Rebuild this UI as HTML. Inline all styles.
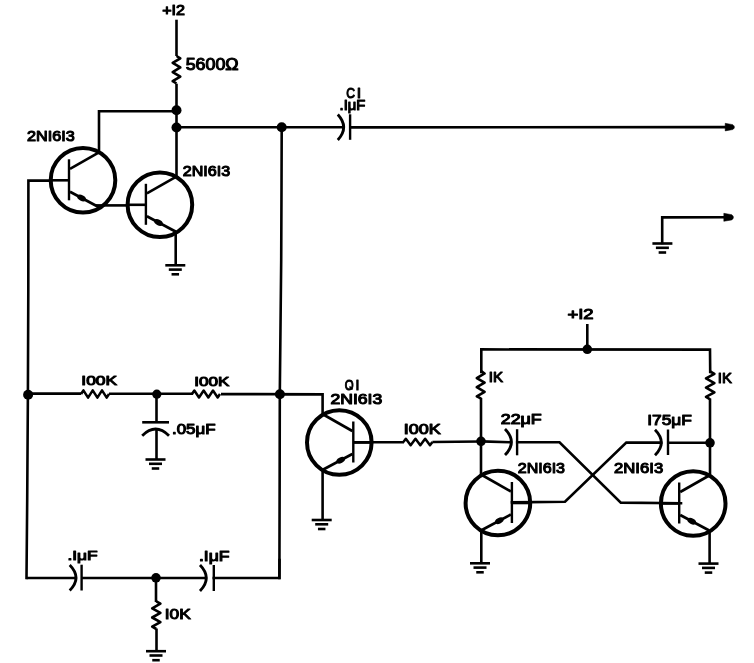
<!DOCTYPE html>
<html><head><meta charset="utf-8"><style>
html,body{margin:0;padding:0;background:#fff;}
svg{display:block;filter:grayscale(1);}
text{font-family:"Liberation Sans",sans-serif;fill:#000;stroke:#000;stroke-width:1.1px;stroke-linejoin:round;}
</style></head><body>
<svg width="754" height="663" viewBox="0 0 754 663">
<rect width="754" height="663" fill="#fff"/>
<text x="162.17" y="15.4" font-size="14.1" font-weight="normal" textLength="22.74" lengthAdjust="spacingAndGlyphs">+I2</text>
<line x1="176.5" y1="19.7" x2="176.5" y2="56" stroke="#000" stroke-width="2.6" stroke-linecap="butt"/>
<path d="M176.5 56 L180.3 58.29 L172.7 62.88 L180.3 67.46 L172.7 72.04 L180.3 76.62 L172.7 81.21 L176.5 83.5" fill="none" stroke="#000" stroke-width="2.6" stroke-linejoin="round"/>
<text x="185.7" y="70.2" font-size="16.28" font-weight="normal" textLength="52.92" lengthAdjust="spacingAndGlyphs">5600Ω</text>
<path d="M176.5 85 L176.5 177" fill="none" stroke="#000" stroke-width="2.6" stroke-linejoin="miter" stroke-linecap="square"/>
<circle cx="176.5" cy="110.3" r="5" fill="#000"/>
<circle cx="176.5" cy="127.5" r="5" fill="#000"/>
<path d="M99 151 L99 111.2 L176.5 111.2" fill="none" stroke="#000" stroke-width="2.6" stroke-linejoin="miter" stroke-linecap="square"/>
<line x1="176.5" y1="127.3" x2="343" y2="127.3" stroke="#000" stroke-width="2.6" stroke-linecap="butt"/>
<path d="M337.8 114.45 Q349.6 127.2 337.8 139.95" fill="none" stroke="#000" stroke-width="2.8"/>
<line x1="350.1" y1="114.3" x2="350.1" y2="139.8" stroke="#000" stroke-width="2.4" stroke-linecap="butt"/>
<line x1="350.1" y1="127.4" x2="727" y2="127.1" stroke="#000" stroke-width="2.6" stroke-linecap="butt"/>
<path d="M725.2 123.3 L732.8 124.63 Q736.1 127.1 732.8 129.57 L725.2 130.9 Z" fill="#000" stroke="#000" stroke-width="0.5" stroke-linejoin="round"/>
<circle cx="281.7" cy="127.3" r="5" fill="#000"/>
<text x="346.19" y="98.2" font-size="15.12" font-weight="normal" textLength="8.75" lengthAdjust="spacingAndGlyphs">C</text>
<text x="356.81" y="98.2" font-size="15.12" font-weight="normal" textLength="4.4" lengthAdjust="spacingAndGlyphs">I</text>
<text x="339.54" y="110.2" font-size="13.81" font-weight="normal" textLength="25.71" lengthAdjust="spacingAndGlyphs">.IμF</text>
<circle cx="83" cy="180.3" r="32.3" fill="none" stroke="#000" stroke-width="4"/>
<line x1="69" y1="159.3" x2="69" y2="200.3" stroke="#000" stroke-width="2.4" stroke-linecap="butt"/>
<line x1="50.7" y1="180.3" x2="69" y2="180.3" stroke="#000" stroke-width="2.6" stroke-linecap="butt"/>
<line x1="70" y1="168.8" x2="99" y2="152.3" stroke="#000" stroke-width="2.6" stroke-linecap="butt"/>
<line x1="70" y1="191.8" x2="99" y2="207.3" stroke="#000" stroke-width="2.7" stroke-linecap="butt"/>
<ellipse cx="81.6" cy="198" rx="4.6" ry="2.9" fill="#000" transform="rotate(28.12 81.6 198)"/>
<circle cx="159.9" cy="204.8" r="32.3" fill="none" stroke="#000" stroke-width="4"/>
<line x1="145.9" y1="183.8" x2="145.9" y2="224.8" stroke="#000" stroke-width="2.4" stroke-linecap="butt"/>
<line x1="127.6" y1="204.8" x2="145.9" y2="204.8" stroke="#000" stroke-width="2.6" stroke-linecap="butt"/>
<line x1="146.9" y1="193.3" x2="175.9" y2="176.8" stroke="#000" stroke-width="2.6" stroke-linecap="butt"/>
<line x1="146.9" y1="216.3" x2="175.9" y2="231.8" stroke="#000" stroke-width="2.7" stroke-linecap="butt"/>
<ellipse cx="158.5" cy="222.5" rx="4.6" ry="2.9" fill="#000" transform="rotate(28.12 158.5 222.5)"/>
<path d="M51 180.6 L28.4 180.6 L28.3 290 L27.9 394 L27.2 500 L26.5 578" fill="none" stroke="#000" stroke-width="2.6" stroke-linejoin="miter" stroke-linecap="square"/>
<line x1="96" y1="205.4" x2="128" y2="205.4" stroke="#000" stroke-width="2.6" stroke-linecap="butt"/>
<line x1="175.7" y1="231.5" x2="175.7" y2="265.3" stroke="#000" stroke-width="2.6" stroke-linecap="butt"/>
<line x1="165.3" y1="265.3" x2="185.3" y2="265.3" stroke="#000" stroke-width="2.6" stroke-linecap="butt"/>
<line x1="168.8" y1="269.6" x2="181.8" y2="269.6" stroke="#000" stroke-width="2.6" stroke-linecap="butt"/>
<line x1="171.55" y1="274.3" x2="179.05" y2="274.3" stroke="#000" stroke-width="2.6" stroke-linecap="butt"/>
<text x="27.12" y="140.5" font-size="14.53" font-weight="normal" textLength="47.68" lengthAdjust="spacingAndGlyphs">2NI6I3</text>
<text x="182.79" y="176" font-size="14.53" font-weight="normal" textLength="47.41" lengthAdjust="spacingAndGlyphs">2NI6I3</text>
<path d="M726 217.3 L662.2 217.4 L662.2 243" fill="none" stroke="#000" stroke-width="2.6" stroke-linejoin="miter" stroke-linecap="square"/>
<path d="M723.8 213.3 L731.8 214.7 Q735.1 217.3 731.8 219.9 L723.8 221.3 Z" fill="#000" stroke="#000" stroke-width="0.5" stroke-linejoin="round"/>
<line x1="652.4" y1="243.5" x2="672.4" y2="243.5" stroke="#000" stroke-width="2.6" stroke-linecap="butt"/>
<line x1="655.9" y1="247.8" x2="668.9" y2="247.8" stroke="#000" stroke-width="2.6" stroke-linecap="butt"/>
<line x1="658.65" y1="252.5" x2="666.15" y2="252.5" stroke="#000" stroke-width="2.6" stroke-linecap="butt"/>
<path d="M281.7 127.3 L281.5 190 L281.2 260 L279.8 394 L279.65 480 L279.4 578" fill="none" stroke="#000" stroke-width="2.6" stroke-linejoin="miter" stroke-linecap="square"/>
<line x1="27.9" y1="393.6" x2="81.1" y2="393.6" stroke="#000" stroke-width="2.6" stroke-linecap="butt"/>
<path d="M81.1 394 L83.42 390.3 L88.07 397.7 L92.72 390.3 L97.38 397.7 L102.03 390.3 L106.67 397.7 L109 394" fill="none" stroke="#000" stroke-width="2.5" stroke-linejoin="round"/>
<line x1="109" y1="393.8" x2="193" y2="393.8" stroke="#000" stroke-width="2.6" stroke-linecap="butt"/>
<path d="M192 394 L194.33 390.5 L199 397.5 L203.67 390.5 L208.33 397.5 L213 390.5 L217.67 397.5 L220 394" fill="none" stroke="#000" stroke-width="2.5" stroke-linejoin="round"/>
<line x1="221" y1="394.1" x2="322.4" y2="394.2" stroke="#000" stroke-width="2.6" stroke-linecap="butt"/>
<circle cx="28.1" cy="394.8" r="5" fill="#000"/>
<circle cx="156.8" cy="394.2" r="4.6" fill="#000"/>
<circle cx="279.9" cy="394.2" r="5" fill="#000"/>
<text x="81.35" y="385.4" font-size="13.66" font-weight="normal" textLength="35.84" lengthAdjust="spacingAndGlyphs">I00K</text>
<text x="194.33" y="385.9" font-size="13.37" font-weight="normal" textLength="35.09" lengthAdjust="spacingAndGlyphs">I00K</text>
<line x1="156.5" y1="394" x2="156.5" y2="422.3" stroke="#000" stroke-width="2.6" stroke-linecap="butt"/>
<line x1="142.2" y1="422.3" x2="169" y2="422.3" stroke="#000" stroke-width="2.6" stroke-linecap="butt"/>
<path d="M142.2 435.7 Q155.6 422.5 169 435.7" fill="none" stroke="#000" stroke-width="2.8"/>
<line x1="156.5" y1="429" x2="156.5" y2="459" stroke="#000" stroke-width="2.6" stroke-linecap="butt"/>
<line x1="145.5" y1="459.5" x2="165.5" y2="459.5" stroke="#000" stroke-width="2.6" stroke-linecap="butt"/>
<line x1="149" y1="463.8" x2="162" y2="463.8" stroke="#000" stroke-width="2.6" stroke-linecap="butt"/>
<line x1="151.75" y1="468.5" x2="159.25" y2="468.5" stroke="#000" stroke-width="2.6" stroke-linecap="butt"/>
<text x="171.98" y="434" font-size="14.53" font-weight="normal" textLength="43.58" lengthAdjust="spacingAndGlyphs">.05μF</text>
<circle cx="339.3" cy="442.5" r="32.3" fill="none" stroke="#000" stroke-width="4"/>
<line x1="353.3" y1="421.5" x2="353.3" y2="462.5" stroke="#000" stroke-width="2.4" stroke-linecap="butt"/>
<line x1="371.6" y1="442.5" x2="353.3" y2="442.5" stroke="#000" stroke-width="2.6" stroke-linecap="butt"/>
<line x1="352.3" y1="431" x2="323.3" y2="414.5" stroke="#000" stroke-width="2.6" stroke-linecap="butt"/>
<line x1="352.3" y1="454" x2="323.3" y2="469.5" stroke="#000" stroke-width="2.7" stroke-linecap="butt"/>
<ellipse cx="340.7" cy="460.2" rx="4.6" ry="2.9" fill="#000" transform="rotate(151.88 340.7 460.2)"/>
<path d="M322.6 414.7 L322.6 394.2 L280 394.2" fill="none" stroke="#000" stroke-width="2.6" stroke-linejoin="miter" stroke-linecap="square"/>
<line x1="353.3" y1="442.2" x2="404" y2="442.2" stroke="#000" stroke-width="2.6" stroke-linecap="butt"/>
<path d="M403.4 442 L405.82 438.7 L410.65 445.3 L415.48 438.7 L420.32 445.3 L425.15 438.7 L429.98 445.3 L432.4 442" fill="none" stroke="#000" stroke-width="2.5" stroke-linejoin="round"/>
<line x1="432.4" y1="442" x2="481" y2="441.5" stroke="#000" stroke-width="2.6" stroke-linecap="butt"/>
<line x1="322.6" y1="468.6" x2="322.6" y2="520" stroke="#000" stroke-width="2.6" stroke-linecap="butt"/>
<line x1="311.7" y1="520" x2="331.7" y2="520" stroke="#000" stroke-width="2.6" stroke-linecap="butt"/>
<line x1="315.2" y1="524.3" x2="328.2" y2="524.3" stroke="#000" stroke-width="2.6" stroke-linecap="butt"/>
<line x1="317.95" y1="529" x2="325.45" y2="529" stroke="#000" stroke-width="2.6" stroke-linecap="butt"/>
<text x="344.69" y="389.7" font-size="14.53" font-weight="normal" textLength="8.88" lengthAdjust="spacingAndGlyphs">O</text>
<text x="355.5" y="389.7" font-size="14.53" font-weight="normal" textLength="3.9" lengthAdjust="spacingAndGlyphs">I</text>
<line x1="349.5" y1="386.5" x2="352.5" y2="389.5" stroke="#000" stroke-width="1.6" stroke-linecap="butt"/>
<text x="330.52" y="404.3" font-size="14.53" font-weight="normal" textLength="51.73" lengthAdjust="spacingAndGlyphs">2NI6I3</text>
<text x="403.69" y="433.7" font-size="13.95" font-weight="normal" textLength="37.01" lengthAdjust="spacingAndGlyphs">I00K</text>
<line x1="26.5" y1="578" x2="75" y2="578" stroke="#000" stroke-width="2.6" stroke-linecap="butt"/>
<path d="M69.7 565.05 Q82.3 577.8 69.7 590.55" fill="none" stroke="#000" stroke-width="2.8"/>
<line x1="81.6" y1="564.7" x2="81.6" y2="590.5" stroke="#000" stroke-width="2.4" stroke-linecap="butt"/>
<line x1="81.6" y1="578" x2="206" y2="578" stroke="#000" stroke-width="2.6" stroke-linecap="butt"/>
<path d="M200 565 Q212.6 578 200 591" fill="none" stroke="#000" stroke-width="2.8"/>
<line x1="213.8" y1="565" x2="213.8" y2="591" stroke="#000" stroke-width="2.4" stroke-linecap="butt"/>
<path d="M213.8 578 L279.4 578 L279.5 560" fill="none" stroke="#000" stroke-width="2.6" stroke-linejoin="miter" stroke-linecap="square"/>
<circle cx="156" cy="577.8" r="4.8" fill="#000"/>
<line x1="156" y1="578" x2="156" y2="602" stroke="#000" stroke-width="2.6" stroke-linecap="butt"/>
<path d="M156.3 601.4 L160.4 603.7 L152.2 608.3 L160.4 612.9 L152.2 617.5 L160.4 622.1 L152.2 626.7 L156.3 629" fill="none" stroke="#000" stroke-width="2.6" stroke-linejoin="round"/>
<line x1="156.5" y1="628.5" x2="156.5" y2="651" stroke="#000" stroke-width="2.6" stroke-linecap="butt"/>
<line x1="146" y1="651.2" x2="166" y2="651.2" stroke="#000" stroke-width="2.6" stroke-linecap="butt"/>
<line x1="149.5" y1="655.5" x2="162.5" y2="655.5" stroke="#000" stroke-width="2.6" stroke-linecap="butt"/>
<line x1="152.25" y1="660.2" x2="159.75" y2="660.2" stroke="#000" stroke-width="2.6" stroke-linecap="butt"/>
<text x="67.49" y="560" font-size="13.52" font-weight="normal" textLength="30.21" lengthAdjust="spacingAndGlyphs">.IμF</text>
<text x="198.9" y="560.9" font-size="14.39" font-weight="normal" textLength="30.63" lengthAdjust="spacingAndGlyphs">.IμF</text>
<text x="164.78" y="618.9" font-size="15.12" font-weight="normal" textLength="26.1" lengthAdjust="spacingAndGlyphs">I0K</text>
<text x="567.49" y="319.4" font-size="15.12" font-weight="normal" textLength="26.16" lengthAdjust="spacingAndGlyphs">+I2</text>
<line x1="587.3" y1="324" x2="587.3" y2="349.5" stroke="#000" stroke-width="2.6" stroke-linecap="butt"/>
<circle cx="587.3" cy="349.3" r="4.8" fill="#000"/>
<path d="M481.3 372 L481.3 349.4 L710 349.6 L710.2 372" fill="none" stroke="#000" stroke-width="2.6" stroke-linejoin="miter" stroke-linecap="square"/>
<path d="M481.2 371.2 L484.6 373.49 L476.8 378.07 L484.6 382.66 L476.8 387.24 L484.6 391.82 L476.8 396.41 L481.2 398.7" fill="none" stroke="#000" stroke-width="2.6" stroke-linejoin="round"/>
<path d="M710.2 371.5 L714.4 373.82 L706 378.45 L714.4 383.08 L706 387.72 L714.4 392.35 L706 396.98 L710.2 399.3" fill="none" stroke="#000" stroke-width="2.6" stroke-linejoin="round"/>
<line x1="481" y1="398" x2="481" y2="476" stroke="#000" stroke-width="2.6" stroke-linecap="butt"/>
<line x1="710" y1="398.5" x2="710" y2="476" stroke="#000" stroke-width="2.6" stroke-linecap="butt"/>
<circle cx="481" cy="441.3" r="4.8" fill="#000"/>
<circle cx="710" cy="442.8" r="4.8" fill="#000"/>
<text x="488.87" y="382.1" font-size="13.95" font-weight="normal" textLength="14.27" lengthAdjust="spacingAndGlyphs">IK</text>
<text x="717.76" y="383.1" font-size="15.12" font-weight="normal" textLength="14.14" lengthAdjust="spacingAndGlyphs">IK</text>
<line x1="481" y1="441.4" x2="510" y2="442.2" stroke="#000" stroke-width="2.6" stroke-linecap="butt"/>
<path d="M505 429.1 Q517.8 442.1 505 455.1" fill="none" stroke="#000" stroke-width="2.8"/>
<line x1="517.1" y1="429.2" x2="517.1" y2="455.3" stroke="#000" stroke-width="2.4" stroke-linecap="butt"/>
<path d="M517.2 442.2 L559.5 442.3 L620.8 502.6 L681 503.2" fill="none" stroke="#000" stroke-width="2.6" stroke-linejoin="miter" stroke-linecap="square"/>
<text x="500.75" y="424.1" font-size="14.53" font-weight="normal" textLength="41" lengthAdjust="spacingAndGlyphs">22μF</text>
<line x1="710" y1="442.8" x2="668" y2="442.8" stroke="#000" stroke-width="2.6" stroke-linecap="butt"/>
<path d="M655 429.7 Q667.6 442.5 655 455.3" fill="none" stroke="#000" stroke-width="2.8"/>
<line x1="668" y1="429.5" x2="668" y2="455" stroke="#000" stroke-width="2.4" stroke-linecap="butt"/>
<path d="M661 442.6 L626.3 442.6 L565 501.7 L512 502.4" fill="none" stroke="#000" stroke-width="2.6" stroke-linejoin="miter" stroke-linecap="square"/>
<text x="647.18" y="425" font-size="15.55" font-weight="normal" textLength="44.79" lengthAdjust="spacingAndGlyphs">I75μF</text>
<circle cx="497.9" cy="503" r="32.3" fill="none" stroke="#000" stroke-width="4"/>
<line x1="511.9" y1="482" x2="511.9" y2="523" stroke="#000" stroke-width="2.4" stroke-linecap="butt"/>
<line x1="530.2" y1="503" x2="511.9" y2="503" stroke="#000" stroke-width="2.6" stroke-linecap="butt"/>
<line x1="510.9" y1="491.5" x2="481.9" y2="475" stroke="#000" stroke-width="2.6" stroke-linecap="butt"/>
<line x1="510.9" y1="514.5" x2="481.9" y2="530" stroke="#000" stroke-width="2.7" stroke-linecap="butt"/>
<ellipse cx="499.3" cy="520.7" rx="4.6" ry="2.9" fill="#000" transform="rotate(151.88 499.3 520.7)"/>
<circle cx="693.2" cy="503.5" r="32.3" fill="none" stroke="#000" stroke-width="4"/>
<line x1="679.2" y1="482.5" x2="679.2" y2="523.5" stroke="#000" stroke-width="2.4" stroke-linecap="butt"/>
<line x1="660.9" y1="503.5" x2="679.2" y2="503.5" stroke="#000" stroke-width="2.6" stroke-linecap="butt"/>
<line x1="680.2" y1="492" x2="709.2" y2="475.5" stroke="#000" stroke-width="2.6" stroke-linecap="butt"/>
<line x1="680.2" y1="515" x2="709.2" y2="530.5" stroke="#000" stroke-width="2.7" stroke-linecap="butt"/>
<ellipse cx="691.8" cy="521.2" rx="4.6" ry="2.9" fill="#000" transform="rotate(28.12 691.8 521.2)"/>
<line x1="481.3" y1="530" x2="481.3" y2="563" stroke="#000" stroke-width="2.6" stroke-linecap="butt"/>
<line x1="470" y1="563.3" x2="490" y2="563.3" stroke="#000" stroke-width="2.6" stroke-linecap="butt"/>
<line x1="473.5" y1="567.6" x2="486.5" y2="567.6" stroke="#000" stroke-width="2.6" stroke-linecap="butt"/>
<line x1="476.25" y1="572.3" x2="483.75" y2="572.3" stroke="#000" stroke-width="2.6" stroke-linecap="butt"/>
<line x1="709.6" y1="530" x2="709.6" y2="563.4" stroke="#000" stroke-width="2.6" stroke-linecap="butt"/>
<line x1="698.5" y1="563.6" x2="718.5" y2="563.6" stroke="#000" stroke-width="2.6" stroke-linecap="butt"/>
<line x1="702" y1="567.9" x2="715" y2="567.9" stroke="#000" stroke-width="2.6" stroke-linecap="butt"/>
<line x1="704.75" y1="572.6" x2="712.25" y2="572.6" stroke="#000" stroke-width="2.6" stroke-linecap="butt"/>
<text x="517.79" y="472.6" font-size="14.68" font-weight="normal" textLength="47.22" lengthAdjust="spacingAndGlyphs">2NI6I3</text>
<text x="614.07" y="472.6" font-size="14.68" font-weight="normal" textLength="49.11" lengthAdjust="spacingAndGlyphs">2NI6I3</text>
</svg>
</body></html>
